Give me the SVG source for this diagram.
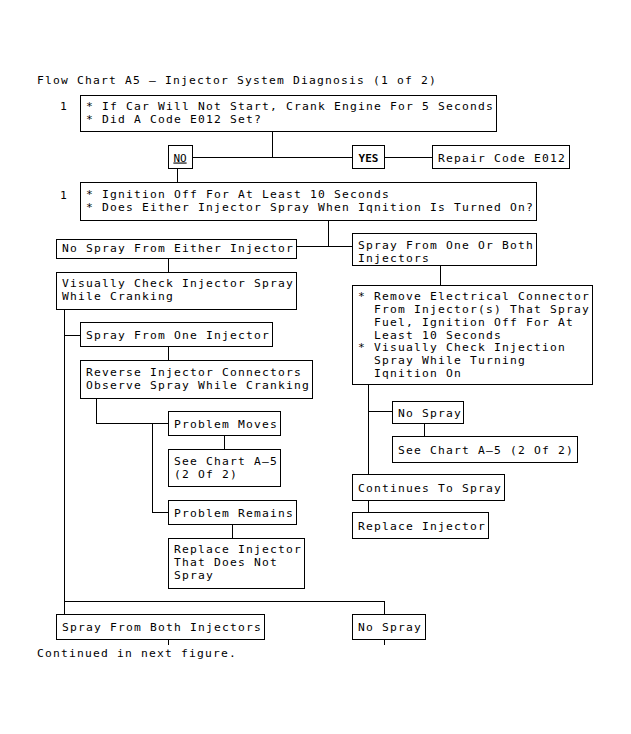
<svg xmlns="http://www.w3.org/2000/svg" width="631" height="734" viewBox="0 0 631 734">
<style>
text{font-family:"DejaVu Sans Mono","Liberation Mono",monospace;font-size:11.3px;letter-spacing:1.2px;fill:#000;white-space:pre}
rect{fill:#fff;stroke:#000;stroke-width:1}
.c path{fill:none;stroke:#000;stroke-width:1}
.b{font-weight:bold}
</style>
<rect x="0" y="0" width="631" height="734" style="stroke:none"/>
<text x="37" y="84">Flow Chart A5 – Injector System Diagnosis (1 of 2)</text>
<g class="c" shape-rendering="crispEdges">
<path d="M272.5 131V157.5M192 157.5H352M385 157.5H432M177.5 169V182"/>
<path d="M328.5 221V246.5M297 246.5H352M168.5 258V272M440.5 265V285"/>
<path d="M64.5 309V614M64 335.5H80M168.5 347V361M96.5 398V423.5H168M152.5 423V512.5H168M224.5 436V449M232.5 525V538"/>
<path d="M368.5 385V474M368 411.5H392M424.5 423V436M368.5 500V512"/>
<path d="M64 601.5H384.5V614M168.5 639V645M384.5 639V645"/>
</g>
<g shape-rendering="crispEdges">
<g id="step1"><text x="60" y="110">1</text><rect x="80.5" y="95.5" width="416" height="36"/><text x="86" y="110">* If Car Will Not Start, Crank Engine For 5 Seconds</text><text x="86" y="123">* Did A Code E012 Set?</text></g>
<g id="no"><rect x="168.5" y="145.5" width="24" height="23"/><text x="180" y="161.5" text-anchor="middle" text-decoration="underline" style="font-size:11px;letter-spacing:0">NO</text></g>
<g id="yes"><rect x="352.5" y="145.5" width="32" height="23"/><text x="368.5" y="161.5" text-anchor="middle" class="b" style="font-size:11px;letter-spacing:0">YES</text></g>
<g id="repair"><rect x="432.5" y="145.5" width="137" height="23"/><text x="438" y="161.5">Repair Code E012</text></g>
<g id="step2"><text x="60" y="199">1</text><rect x="80.5" y="182.5" width="456" height="38"/><text x="86" y="198">* Ignition Off For At Least 10 Seconds</text><text x="86" y="211">* Does Either Injector Spray When Iqnition Is Turned On?</text></g>
<g id="nospray-either"><rect x="56.5" y="239.5" width="240" height="19"/><text x="62" y="252">No Spray From Either Injector</text></g>
<g id="spray-one-both"><rect x="352.5" y="233.5" width="184" height="32"/><text x="358" y="249">Spray From One Or Both</text><text x="358" y="262">Injectors</text></g>
<g id="visual"><rect x="56.5" y="272.5" width="240" height="37"/><text x="62" y="287">Visually Check Injector Spray</text><text x="62" y="300">While Cranking</text></g>
<g id="spray-one"><rect x="80.5" y="322.5" width="192" height="24"/><text x="86" y="339">Spray From One Injector</text></g>
<g id="reverse"><rect x="80.5" y="360.5" width="232" height="38"/><text x="86" y="376">Reverse Injector Connectors</text><text x="86" y="389">Observe Spray While Cranking</text></g>
<g id="moves"><rect x="168.5" y="411.5" width="112" height="24"/><text x="174" y="428">Problem Moves</text></g>
<g id="seechart1"><rect x="168.5" y="449.5" width="112" height="37"/><text x="174" y="465">See Chart A–5</text><text x="174" y="478">(2 Of 2)</text></g>
<g id="remains"><rect x="168.5" y="500.5" width="128" height="24"/><text x="174" y="517">Problem Remains</text></g>
<g id="replace1"><rect x="168.5" y="538.5" width="136" height="50"/><text x="174" y="553">Replace Injector</text><text x="174" y="566">That Does Not</text><text x="174" y="579">Spray</text></g>
<g id="remove"><rect x="352.5" y="285.5" width="240" height="99"/>
<text x="358" y="300">*</text><text x="374" y="300">Remove Electrical Connector</text>
<text x="374" y="313">From Injector(s) That Spray</text>
<text x="374" y="326">Fuel, Ignition Off For At</text>
<text x="374" y="339">Least 10 Seconds</text>
<text x="358" y="351">*</text><text x="374" y="351">Visually Check Injection</text>
<text x="374" y="364">Spray While Turning</text>
<text x="374" y="377">Iqnition On</text></g>
<g id="nospray-r"><rect x="392.5" y="401.5" width="71" height="22"/><text x="398" y="417">No Spray</text></g>
<g id="seechart2"><rect x="392.5" y="436.5" width="185" height="26"/><text x="398" y="454">See Chart A–5 (2 Of 2)</text></g>
<g id="continues"><rect x="352.5" y="474.5" width="152" height="26"/><text x="358" y="492">Continues To Spray</text></g>
<g id="replace2"><rect x="352.5" y="512.5" width="136" height="26"/><text x="358" y="530">Replace Injector</text></g>
<g id="both"><rect x="56.5" y="614.5" width="208" height="25"/><text x="62" y="631">Spray From Both Injectors</text></g>
<g id="nospray-b"><rect x="352.5" y="614.5" width="73" height="25"/><text x="358" y="631">No Spray</text></g>
</g>
<text x="37" y="657">Continued in next figure.</text>
</svg>
